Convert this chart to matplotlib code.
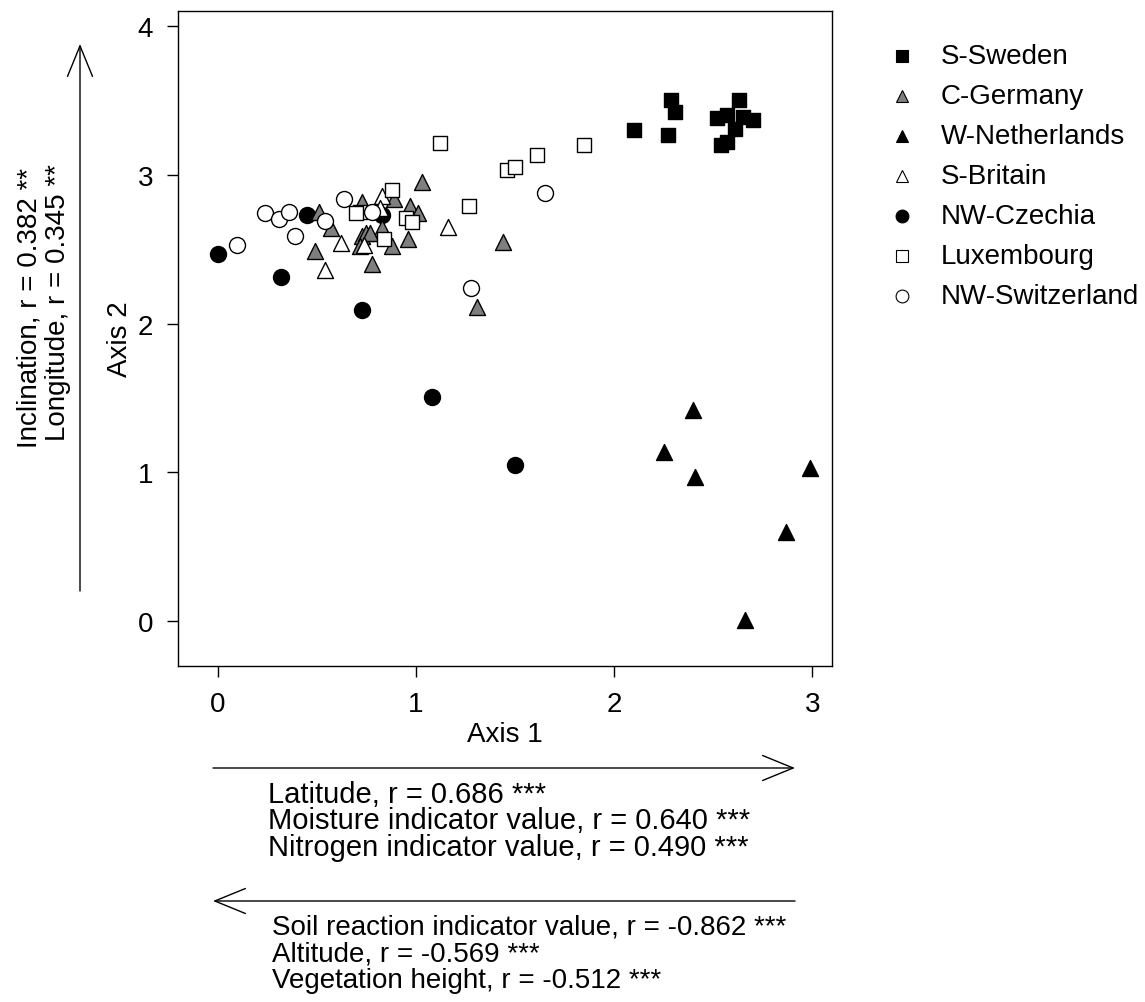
import numpy as np
import matplotlib.pyplot as plt
from matplotlib.lines import Line2D
from matplotlib.patches import FancyArrowPatch

plt.rcParams['font.family'] = ['Liberation Sans', 'DejaVu Sans']

# site scores on the first two ordination axes, one pair of lists per region
sweden_x = [2.10, 2.29, 2.31, 2.27, 2.52, 2.57, 2.63, 2.65, 2.70, 2.61, 2.54, 2.57]
sweden_y = [3.30, 3.50, 3.42, 3.27, 3.38, 3.40, 3.50, 3.39, 3.37, 3.31, 3.20, 3.22]

germany_x = [1.03, 0.51, 0.57, 0.49, 0.97, 1.01, 0.96, 0.88, 0.83, 0.73, 0.75, 0.77,
             0.72, 0.78, 1.44, 1.31, 0.89, 0.73]
germany_y = [2.95, 2.75, 2.64, 2.49, 2.79, 2.74, 2.57, 2.52, 2.64, 2.59, 2.61, 2.61,
             2.52, 2.40, 2.55, 2.11, 2.84, 2.82]

netherl_x = [2.40, 2.25, 2.41, 2.99, 2.87, 2.66]
netherl_y = [1.42, 1.14, 0.97, 1.03, 0.60, 0.01]

britain_x = [0.62, 0.54, 0.74, 1.16, 0.83, 0.82]
britain_y = [2.54, 2.36, 2.53, 2.65, 2.86, 2.78]

czechia_x = [0.00, 0.45, 0.32, 0.73, 0.83, 1.08, 1.50]
czechia_y = [2.47, 2.73, 2.31, 2.09, 2.73, 1.51, 1.05]

luxemb_x = [0.88, 0.72, 0.70, 0.95, 0.98, 0.84, 1.27, 1.12, 1.46, 1.50, 1.61, 1.85]
luxemb_y = [2.90, 2.75, 2.74, 2.71, 2.68, 2.57, 2.79, 3.21, 3.03, 3.05, 3.13, 3.20]

swiss_x = [0.10, 0.24, 0.31, 0.36, 0.39, 0.54, 0.64, 0.78, 1.28, 1.65]
swiss_y = [2.53, 2.74, 2.70, 2.75, 2.59, 2.69, 2.84, 2.75, 2.24, 2.88]

regions = ['S-Sweden', 'C-Germany', 'W-Netherlands', 'S-Britain',
           'NW-Czechia', 'Luxembourg', 'NW-Switzerland']

# arrow labels: correlations of environmental variables with the axes
axis1_pos = ['Latitude, r = 0.686 ***',
             'Moisture indicator value, r = 0.640 ***',
             'Nitrogen indicator value, r = 0.490 ***']
axis1_neg = ['Soil reaction indicator value, r = -0.862 ***',
             'Altitude, r = -0.569 ***',
             'Vegetation height, r = -0.512 ***']
axis2_pos = ['Inclination, r = 0.382 **',
             'Longitude, r = 0.345 **']

FS = 20
W, H = 1145, 1003

fig = plt.figure(figsize=(W / 100, H / 100), dpi=100)
ax = fig.add_axes([178 / W, 1 - 667 / H, (832 - 178) / W, (667 - 12) / H])

series = [
    (sweden_x, sweden_y, 's', 'black', 10, 1),
    (germany_x, germany_y, '^', '#7f7f7f', 11.5, 4),
    (netherl_x, netherl_y, '^', 'black', 11.5, 2),
    (britain_x, britain_y, '^', 'white', 11.5, 5),
    (czechia_x, czechia_y, 'o', 'black', 11.5, 3),
    (luxemb_x, luxemb_y, 's', 'white', 10, 6),
    (swiss_x, swiss_y, 'o', 'white', 11.5, 7),
]
for (xs, ys, mk, fc, ms, z), name in zip(series, regions):
    ax.scatter(xs, ys, marker=mk, s=ms ** 2, facecolor=fc, edgecolor='black',
               linewidth=1.0, zorder=z, label=name)

ax.set_xlim(-0.2, 3.1)
ax.set_ylim(-0.3, 4.1)
ax.set_xticks([0, 1, 2, 3])
ax.set_yticks([0, 1, 2, 3, 4])
ax.tick_params(direction='out', length=8, width=1, labelsize=FS, pad=10)
for sp in ax.spines.values():
    sp.set_linewidth(1)
ax.set_xlabel('Axis 1', fontsize=FS, labelpad=3)
ax.set_ylabel('Axis 2', fontsize=FS, labelpad=3)

# legend drawn by hand to the right of the plot
for i, ((xs, ys, mk, fc, ms, z), name) in enumerate(zip(series, regions)):
    yy = 1 - (57 + i * 40) / H
    fig.add_artist(Line2D([902 / W], [yy], transform=fig.transFigure, marker=mk,
                          markersize=ms * 0.8, markerfacecolor=fc,
                          markeredgecolor='black', markeredgewidth=0.8,
                          linestyle='none'))
    fig.text(941 / W, yy, name, fontsize=FS, va='center', ha='left')


def arrow(x0, y0, x1, y1):
    fig.add_artist(FancyArrowPatch((x0 / W, 1 - y0 / H), (x1 / W, 1 - y1 / H),
                                   transform=fig.transFigure,
                                   arrowstyle='->,head_length=22,head_width=9',
                                   mutation_scale=1, shrinkA=0, shrinkB=0,
                                   color='black', linewidth=1))


# vertical arrow for axis 2
arrow(80, 592, 80, 45)
fig.text(30 / W, 1 - 308 / H, axis2_pos[0], fontsize=FS, rotation=90,
         ha='center', va='center')
fig.text(58 / W, 1 - 303 / H, axis2_pos[1], fontsize=FS, rotation=90,
         ha='center', va='center')

# horizontal arrows for axis 1
arrow(213, 769, 795, 769)
for i, t in enumerate(axis1_pos):
    fig.text(268 / W, 1 - (795 + i * 26.5) / H, t, fontsize=21, va='center', ha='left')

arrow(795, 902, 213, 902)
for i, t in enumerate(axis1_neg):
    fig.text(272 / W, 1 - (928 + i * 26.5) / H, t, fontsize=FS, va='center', ha='left')

fig.savefig('out.png', dpi=100)
